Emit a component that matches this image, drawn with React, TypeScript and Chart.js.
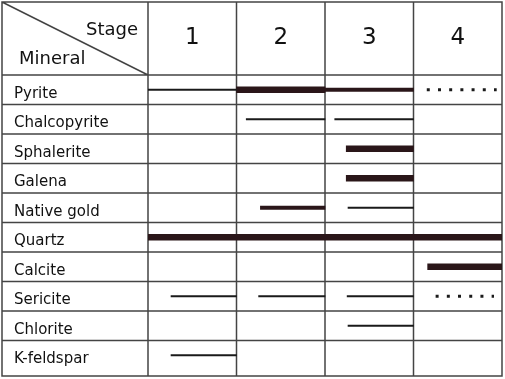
import React, { useEffect, useRef } from 'react';
import { Chart, registerables } from 'chart.js';

Chart.register(...registerables);

// ---- data ----
const minerals = ['Pyrite', 'Chalcopyrite', 'Sphalerite', 'Galena', 'Native gold', 'Quartz', 'Calcite', 'Sericite', 'Chlorite', 'K-feldspar'];
const stageLabels = ['1', '2', '3', '4'];
const headerStage = 'Stage';
const headerMineral = 'Mineral';

// spans in stage units (0 = start of stage 1, 4 = end of stage 4)
const heavyBars = [[1, 2], null, [2.24, 3], [2.24, 3], null, [0, 4], [3.16, 4], null, null, null];
const mediumBars = [[2, 3], null, null, null, [1.27, 2], null, null, null, null, null];
const thinBarsStage1 = [[0, 1], null, null, null, null, null, null, [0.26, 1], null, [0.26, 1]];
const thinBarsStage2 = [null, [1.11, 2], null, null, null, null, null, [1.25, 2], null, null];
const thinBarsStage3 = [null, [2.11, 3], null, null, [2.26, 3], null, null, [2.25, 3], [2.26, 3], null];
const dottedSpans = [[3.15, 3.94], null, null, null, null, null, null, [3.25, 3.91], null, null];

const FONT = 'DejaVu Sans';
const LINE = '#444';
const INK = '#111';
const BAR = '#2a1619';

const tablePlugin = {
  id: 'tableFrame',
  beforeDatasetsDraw(chart: any) {
    const { ctx, chartArea, scales } = chart;
    const x = scales.x;
    const y = scales.y;
    const left = 2;
    const top = 2;
    const right = chartArea.right;
    const bottom = chart.height - 3;
    const rowH = (chartArea.bottom - chartArea.top) / minerals.length;
    const colLeft = x.getPixelForValue(0);
    ctx.save();
    ctx.strokeStyle = LINE;
    ctx.lineWidth = 1.5;
    ctx.beginPath();
    minerals.forEach((_m, i) => {
      const yy = y.getPixelForValue(i) - rowH / 2;
      ctx.moveTo(left, yy);
      ctx.lineTo(right, yy);
    });
    stageLabels.forEach((_s, k) => {
      const xx = x.getPixelForValue(k);
      ctx.moveTo(xx, top);
      ctx.lineTo(xx, bottom);
    });
    ctx.rect(left, top, right - left, bottom - top);
    ctx.moveTo(left, top);
    ctx.lineTo(colLeft, chartArea.top);
    ctx.stroke();

    ctx.fillStyle = INK;
    ctx.font = `18px "${FONT}"`;
    ctx.textBaseline = 'alphabetic';
    ctx.textAlign = 'right';
    ctx.fillText(headerStage, colLeft - 10, top + 33);
    ctx.textAlign = 'left';
    ctx.fillText(headerMineral, left + 17, chartArea.top - 11);
    ctx.restore();
  },
};

function barSet(data: any[], thickness: number, color: string) {
  return {
    type: 'bar' as const,
    data,
    backgroundColor: color,
    borderWidth: 0,
    barThickness: thickness,
    grouped: false,
    xAxisID: 'x',
    yAxisID: 'y',
  };
}

export default function App() {
  const ref = useRef<HTMLCanvasElement>(null);

  useEffect(() => {
    if (!ref.current) return;
    const dotted = dottedSpans
      .map((span, i) => (span ? { span, label: minerals[i] } : null))
      .filter(Boolean)
      .map((d: any) => ({
        type: 'line' as const,
        indexAxis: 'y' as const,
        data: [
          { x: d.span[0], y: d.label },
          { x: d.span[1], y: d.label },
        ],
        borderColor: '#1a1a1a',
        borderWidth: 3,
        borderDash: [3, 8.2],
        borderCapStyle: 'butt' as const,
        pointRadius: 0,
        fill: false,
        xAxisID: 'x',
        yAxisID: 'y',
      }));

    const chart = new Chart(ref.current, {
      type: 'bar',
      data: {
        labels: minerals,
        datasets: [
          barSet(thinBarsStage1, 1.5, '#1a1a1a'),
          barSet(thinBarsStage2, 1.5, '#1a1a1a'),
          barSet(thinBarsStage3, 1.5, '#1a1a1a'),
          barSet(mediumBars, 3.5, BAR),
          barSet(heavyBars, 6, BAR),
          ...dotted,
        ] as any,
      },
      options: {
        indexAxis: 'y',
        animation: false,
        responsive: false,
        devicePixelRatio: 1,
        layout: { padding: { left: 14, top: 2, right: 3, bottom: 8 } },
        plugins: { legend: { display: false }, tooltip: { enabled: false } },
        scales: {
          x: { type: 'linear', min: 0, max: 4, display: false },
          x2: {
            type: 'category',
            labels: stageLabels,
            position: 'top',
            offset: true,
            grid: { display: false, drawTicks: false },
            border: { display: false },
            ticks: { font: { family: FONT, size: 23 }, color: INK, padding: 23, maxRotation: 0 },
            afterFit: (s: any) => { s.height = 73; },
          },
          y: {
            type: 'category',
            offset: true,
            grid: { display: false, drawTicks: false },
            border: { display: false },
            ticks: {
              font: { family: FONT, size: 15 },
              color: INK,
              crossAlign: 'far',
              padding: 0,
              labelOffset: 4,
              autoSkip: false,
            },
            afterFit: (s: any) => { s.width = 134; },
          },
        } as any,
      },
      plugins: [tablePlugin],
    });
    return () => chart.destroy();
  }, []);

  return (
    <div style={{ position: 'fixed', left: 0, top: 0, width: 505, height: 379, background: '#fff' }}>
      <canvas ref={ref} width={505} height={379} style={{ width: 505, height: 379, display: 'block' }} />
    </div>
  );
}
